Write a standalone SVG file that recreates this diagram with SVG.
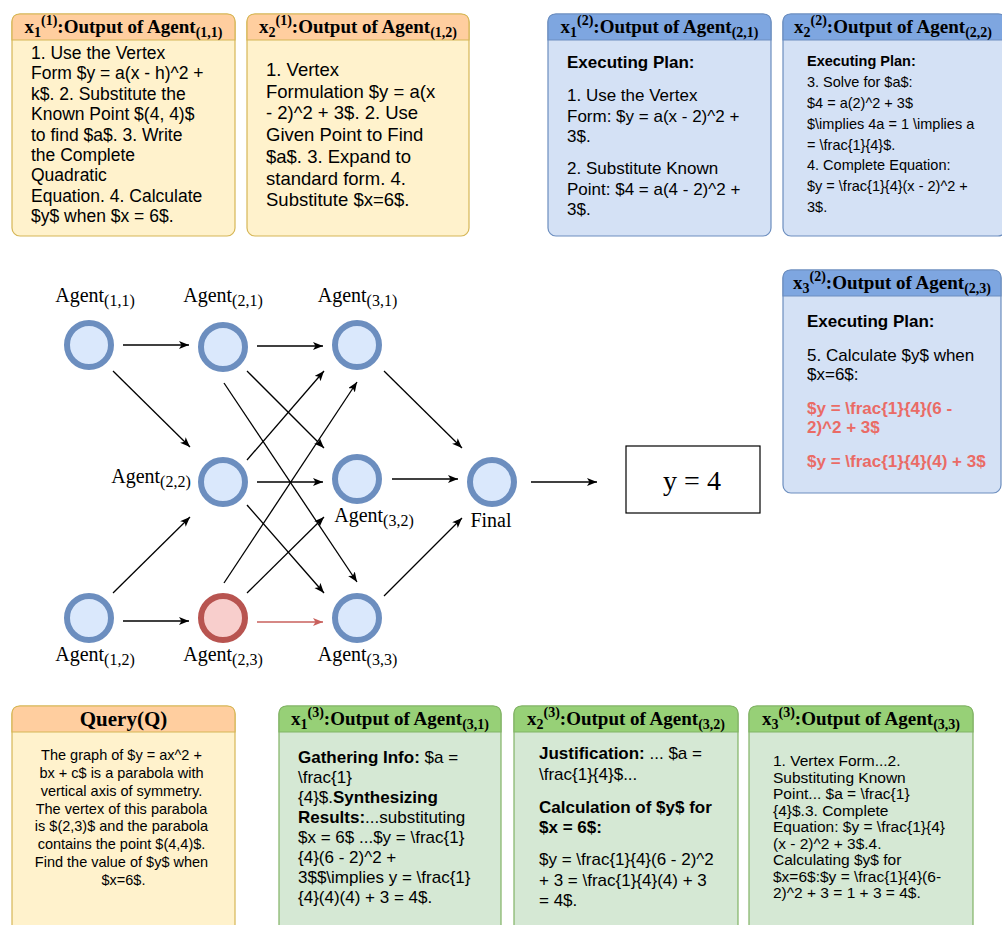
<svg xmlns="http://www.w3.org/2000/svg" width="1002" height="925" viewBox="0 0 1002 925">
<defs>
<marker id="arr" markerUnits="userSpaceOnUse" markerWidth="11" markerHeight="9" refX="10" refY="4" orient="auto">
<path d="M0,0 L10,4 L0,8 L2.5,4 Z" fill="#000"/>
</marker>
<marker id="arrR" markerUnits="userSpaceOnUse" markerWidth="11" markerHeight="9" refX="10" refY="4" orient="auto">
<path d="M0,0 L10,4 L0,8 L2.5,4 Z" fill="#C9605C"/>
</marker>
</defs>
<style>
.ht{font-family:"Liberation Serif","Times New Roman",serif;font-weight:bold;font-size:19px;text-anchor:middle;fill:#000}
.hs{font-size:14px}
.bt{font-family:"Liberation Sans",Arial,sans-serif;fill:#000}
.b{font-weight:bold}
.lbl{font-family:"Liberation Serif","Times New Roman",serif;font-size:20px;text-anchor:middle;fill:#000}
.ls{font-size:16px}
.edge{stroke:#000;stroke-width:1.3;fill:none;marker-end:url(#arr)}
.edgeR{stroke:#C9605C;stroke-width:1.3;fill:none;marker-end:url(#arrR)}
.yb{fill:#FFF2CC;stroke:#D6B656;stroke-width:1.2}
.yh{fill:#FFCE9F;stroke:#D6B656;stroke-width:1.2}
.bb{fill:#D4E1F5;stroke:#6C8EBF;stroke-width:1.2}
.bh{fill:#7EA6E0;stroke:#6C8EBF;stroke-width:1.2}
.gb{fill:#D5E8D4;stroke:#82B366;stroke-width:1.2}
.gh{fill:#97D077;stroke:#82B366;stroke-width:1.2}
.node{fill:#DAE8FC;stroke:#6C8EBF;stroke-width:6}
.nodeR{fill:#F8CECC;stroke:#B85450;stroke-width:6}
</style>

<!-- Box x1(1) -->
<g id="box-x1-1">
<rect class="yb" x="12" y="14" width="223" height="222" rx="8"/>
<path class="yh" d="M12,40 V22 Q12,14 20,14 H227 Q235,14 235,22 V40 Z"/>
<text class="ht" x="123.5" y="33">x<tspan class="hs" dy="4">1</tspan><tspan class="hs" dy="-12">(1)</tspan><tspan dy="8">:Output of Agent</tspan><tspan class="hs" dy="4">(1,1)</tspan></text>
<text class="bt" font-size="17.5">
<tspan x="31" y="59">1. Use the Vertex</tspan>
<tspan x="31" y="79.4">Form $y = a(x - h)^2 +</tspan>
<tspan x="31" y="99.8">k$. 2. Substitute the</tspan>
<tspan x="31" y="120.2">Known Point $(4, 4)$</tspan>
<tspan x="31" y="140.6">to find $a$. 3. Write</tspan>
<tspan x="31" y="161">the Complete</tspan>
<tspan x="31" y="181.4">Quadratic</tspan>
<tspan x="31" y="201.8">Equation. 4. Calculate</tspan>
<tspan x="31" y="222.2">$y$ when $x = 6$.</tspan>
</text>
</g>

<!-- Box x2(1) -->
<g id="box-x2-1">
<rect class="yb" x="247" y="14" width="222" height="222" rx="8"/>
<path class="yh" d="M247,40 V22 Q247,14 255,14 H461 Q469,14 469,22 V40 Z"/>
<text class="ht" x="358" y="33">x<tspan class="hs" dy="4">2</tspan><tspan class="hs" dy="-12">(1)</tspan><tspan dy="8">:Output of Agent</tspan><tspan class="hs" dy="4">(1,2)</tspan></text>
<text class="bt" font-size="18.5">
<tspan x="266" y="76">1. Vertex</tspan>
<tspan x="266" y="97.7">Formulation $y = a(x</tspan>
<tspan x="266" y="119.4">- 2)^2 + 3$. 2. Use</tspan>
<tspan x="266" y="141.1">Given Point to Find</tspan>
<tspan x="266" y="162.8">$a$. 3. Expand to</tspan>
<tspan x="266" y="184.5">standard form. 4.</tspan>
<tspan x="266" y="206.2">Substitute $x=6$.</tspan>
</text>
</g>

<!-- Box x1(2) -->
<g id="box-x1-2">
<rect class="bb" x="548" y="14" width="223" height="222" rx="8"/>
<path class="bh" d="M548,40 V22 Q548,14 556,14 H763 Q771,14 771,22 V40 Z"/>
<text class="ht" x="659.5" y="33">x<tspan class="hs" dy="4">1</tspan><tspan class="hs" dy="-12">(2)</tspan><tspan dy="8">:Output of Agent</tspan><tspan class="hs" dy="4">(2,1)</tspan></text>
<text class="bt" font-size="17">
<tspan class="b" x="567" y="68">Executing Plan:</tspan>
<tspan x="567" y="101">1. Use the Vertex</tspan>
<tspan x="567" y="121.5">Form: $y = a(x - 2)^2 +</tspan>
<tspan x="567" y="142">3$.</tspan>
<tspan x="567" y="174">2. Substitute Known</tspan>
<tspan x="567" y="194.5">Point: $4 = a(4 - 2)^2 +</tspan>
<tspan x="567" y="215">3$.</tspan>
</text>
</g>

<!-- Box x2(2) -->
<g id="box-x2-2">
<rect class="bb" x="783" y="14" width="223" height="222" rx="8"/>
<path class="bh" d="M783,40 V22 Q783,14 791,14 H998 Q1006,14 1006,22 V40 Z"/>
<text class="ht" x="893" y="33">x<tspan class="hs" dy="4">2</tspan><tspan class="hs" dy="-12">(2)</tspan><tspan dy="8">:Output of Agent</tspan><tspan class="hs" dy="4">(2,2)</tspan></text>
<text class="bt" font-size="14.5">
<tspan class="b" x="807" y="66">Executing Plan:</tspan>
<tspan x="807" y="87">3. Solve for $a$:</tspan>
<tspan x="807" y="108">$4 = a(2)^2 + 3$</tspan>
<tspan x="807" y="129">$\implies 4a = 1 \implies a</tspan>
<tspan x="807" y="150">= \frac{1}{4}$.</tspan>
<tspan x="807" y="170">4. Complete Equation:</tspan>
<tspan x="807" y="191">$y = \frac{1}{4}(x - 2)^2 +</tspan>
<tspan x="807" y="212">3$.</tspan>
</text>
</g>

<!-- Box x3(2) -->
<g id="box-x3-2">
<rect class="bb" x="783" y="270" width="218" height="223" rx="8"/>
<path class="bh" d="M783,296 V278 Q783,270 791,270 H993 Q1001,270 1001,278 V296 Z"/>
<text class="ht" x="892" y="289">x<tspan class="hs" dy="4">3</tspan><tspan class="hs" dy="-12">(2)</tspan><tspan dy="8">:Output of Agent</tspan><tspan class="hs" dy="4">(2,3)</tspan></text>
<text class="bt" font-size="17">
<tspan class="b" x="807" y="327">Executing Plan:</tspan>
<tspan x="807" y="361">5. Calculate $y$ when</tspan>
<tspan x="807" y="380">$x=6$:</tspan>
</text>
<text class="bt b" font-size="17" fill="#EA6B66" style="fill:#EA6B66">
<tspan x="807" y="414">$y = \frac{1}{4}(6 -</tspan>
<tspan x="807" y="433">2)^2 + 3$</tspan>
<tspan x="807" y="467">$y = \frac{1}{4}(4) + 3$</tspan>
</text>
</g>

<!-- Query -->
<g id="box-query">
<rect class="yb" x="12" y="706" width="223" height="232" rx="8"/>
<path class="yh" d="M12,732 V714 Q12,706 20,706 H227 Q235,706 235,714 V732 Z"/>
<text class="ht" x="123.5" y="726" font-size="21" style="font-size:21px">Query(Q)</text>
<text class="bt" font-size="14.5" text-anchor="middle">
<tspan x="123.5" y="760">The graph of $y = ax^2 +</tspan>
<tspan x="123.5" y="778">bx + c$ is a parabola with</tspan>
<tspan x="123.5" y="796">vertical axis of symmetry.</tspan>
<tspan x="123.5" y="814">The vertex of this parabola</tspan>
<tspan x="123.5" y="831">is $(2,3)$ and the parabola</tspan>
<tspan x="123.5" y="849">contains the point $(4,4)$.</tspan>
<tspan x="123.5" y="867">Find the value of $y$ when</tspan>
<tspan x="123.5" y="885">$x=6$.</tspan>
</text>
</g>

<!-- Box x1(3) -->
<g id="box-x1-3">
<rect class="gb" x="279" y="706" width="222" height="232" rx="8"/>
<path class="gh" d="M279,732 V714 Q279,706 287,706 H493 Q501,706 501,714 V732 Z"/>
<text class="ht" x="390" y="725">x<tspan class="hs" dy="4">1</tspan><tspan class="hs" dy="-12">(3)</tspan><tspan dy="8">:Output of Agent</tspan><tspan class="hs" dy="4">(3,1)</tspan></text>
<text class="bt" font-size="17">
<tspan x="298" y="763"><tspan class="b">Gathering Info:</tspan> $a =</tspan>
<tspan x="298" y="783">\frac{1}</tspan>
<tspan x="298" y="803">{4}$.<tspan class="b">Synthesizing</tspan></tspan>
<tspan x="298" y="823"><tspan class="b">Results:</tspan>...substituting</tspan>
<tspan x="298" y="843">$x = 6$ ...$y = \frac{1}</tspan>
<tspan x="298" y="863">{4}(6 - 2)^2 +</tspan>
<tspan x="298" y="883">3$$\implies y = \frac{1}</tspan>
<tspan x="298" y="903">{4}(4)(4) + 3 = 4$.</tspan>
</text>
</g>

<!-- Box x2(3) -->
<g id="box-x2-3">
<rect class="gb" x="514" y="706" width="224" height="232" rx="8"/>
<path class="gh" d="M514,732 V714 Q514,706 522,706 H730 Q738,706 738,714 V732 Z"/>
<text class="ht" x="626" y="725">x<tspan class="hs" dy="4">2</tspan><tspan class="hs" dy="-12">(3)</tspan><tspan dy="8">:Output of Agent</tspan><tspan class="hs" dy="4">(3,2)</tspan></text>
<text class="bt" font-size="17">
<tspan x="539" y="759"><tspan class="b">Justification:</tspan> ... $a =</tspan>
<tspan x="539" y="780">\frac{1}{4}$...</tspan>
<tspan class="b" x="539" y="813">Calculation of $y$ for</tspan>
<tspan class="b" x="539" y="833">$x = 6$:</tspan>
<tspan x="539" y="865">$y = \frac{1}{4}(6 - 2)^2</tspan>
<tspan x="539" y="886">+ 3 = \frac{1}{4}(4) + 3</tspan>
<tspan x="539" y="906">= 4$.</tspan>
</text>
</g>

<!-- Box x3(3) -->
<g id="box-x3-3">
<rect class="gb" x="749" y="706" width="224" height="232" rx="8"/>
<path class="gh" d="M749,732 V714 Q749,706 757,706 H965 Q973,706 973,714 V732 Z"/>
<text class="ht" x="861" y="725">x<tspan class="hs" dy="4">3</tspan><tspan class="hs" dy="-12">(3)</tspan><tspan dy="8">:Output of Agent</tspan><tspan class="hs" dy="4">(3,3)</tspan></text>
<text class="bt" font-size="15.5">
<tspan x="773" y="766">1. Vertex Form...2.</tspan>
<tspan x="773" y="782.5">Substituting Known</tspan>
<tspan x="773" y="799">Point... $a = \frac{1}</tspan>
<tspan x="773" y="815.5">{4}$.3. Complete</tspan>
<tspan x="773" y="832">Equation: $y = \frac{1}{4}</tspan>
<tspan x="773" y="848.5">(x - 2)^2 + 3$.4.</tspan>
<tspan x="773" y="865">Calculating $y$ for</tspan>
<tspan x="773" y="881.5">$x=6$:$y = \frac{1}{4}(6-</tspan>
<tspan x="773" y="898">2)^2 + 3 = 1 + 3 = 4$.</tspan>
</text>
</g>

<!-- Connectors -->
<g id="connectors">
<path class="edge" d="M123,345 L189,345"/>
<path class="edge" d="M113,371 L190,447"/>
<path class="edge" d="M257,346 L323,346"/>
<path class="edge" d="M247,371 L324,448"/>
<path class="edge" d="M224,383 L357,582"/>
<path class="edge" d="M247,460 L324,371"/>
<path class="edge" d="M257,482 L323,482"/>
<path class="edge" d="M247,505 L324,593"/>
<path class="edge" d="M113,593 L190,517"/>
<path class="edge" d="M123,621 L189,621"/>
<path class="edge" d="M224,583 L357,382"/>
<path class="edge" d="M247,593 L324,517"/>
<path class="edgeR" d="M257,622 L323,622"/>
<path class="edge" d="M384,371 L462,448"/>
<path class="edge" d="M392,479 L458,479"/>
<path class="edge" d="M384,596 L462,518"/>
<path class="edge" d="M531,482 L597,482"/>
</g>

<!-- Nodes -->
<g id="agent-1-1"><circle class="node" cx="89" cy="345" r="22"/><text class="lbl" x="95" y="302">Agent<tspan class="ls" dy="4">(1,1)</tspan></text></g>
<g id="agent-2-1"><circle class="node" cx="223" cy="347" r="22"/><text class="lbl" x="223" y="302">Agent<tspan class="ls" dy="4">(2,1)</tspan></text></g>
<g id="agent-3-1"><circle class="node" cx="357" cy="345" r="22"/><text class="lbl" x="357.5" y="302">Agent<tspan class="ls" dy="4">(3,1)</tspan></text></g>
<g id="agent-2-2"><circle class="node" cx="223" cy="482" r="22"/><text class="lbl" x="151" y="483">Agent<tspan class="ls" dy="4">(2,2)</tspan></text></g>
<g id="agent-3-2"><circle class="node" cx="357" cy="479" r="22"/><text class="lbl" x="374" y="522">Agent<tspan class="ls" dy="4">(3,2)</tspan></text></g>
<g id="agent-1-2"><circle class="node" cx="89" cy="618" r="22"/><text class="lbl" x="95" y="661">Agent<tspan class="ls" dy="4">(1,2)</tspan></text></g>
<g id="agent-2-3"><circle class="nodeR" cx="223" cy="618" r="22"/><text class="lbl" x="223" y="661">Agent<tspan class="ls" dy="4">(2,3)</tspan></text></g>
<g id="agent-3-3"><circle class="node" cx="357" cy="618" r="22"/><text class="lbl" x="357.5" y="661">Agent<tspan class="ls" dy="4">(3,3)</tspan></text></g>
<g id="final"><circle class="node" cx="492" cy="482" r="22"/><text class="lbl" x="491" y="527">Final</text></g>
<g id="result"><rect x="626" y="446" width="134" height="67" fill="#fff" stroke="#000" stroke-width="1.2"/><text class="lbl" x="692" y="490" style="font-size:28px">y = 4</text></g>
</svg>
